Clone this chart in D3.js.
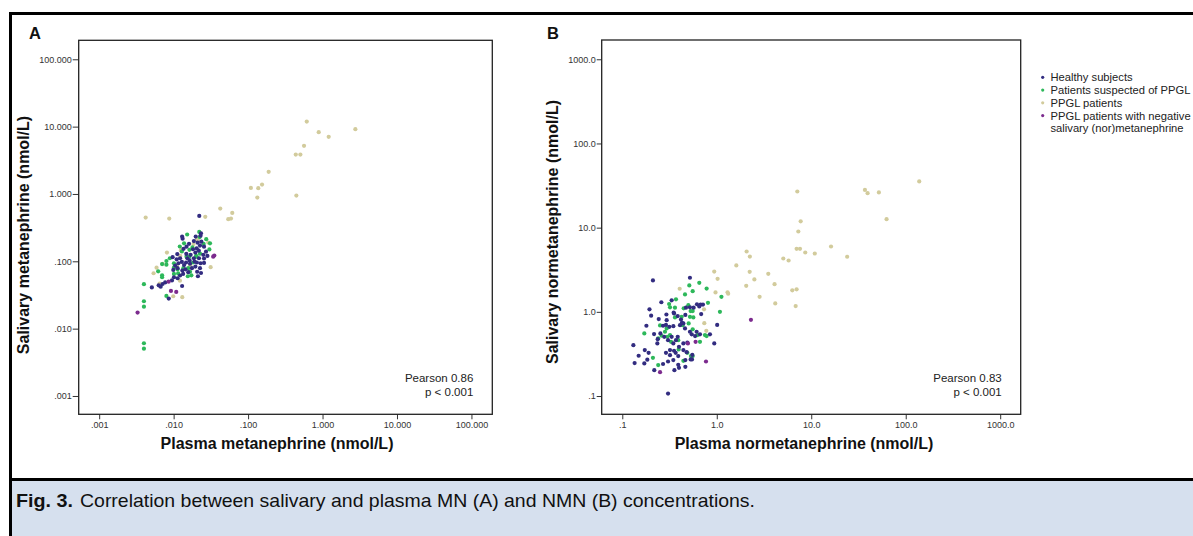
<!DOCTYPE html>
<html><head><meta charset="utf-8">
<script src="https://cdn.jsdelivr.net/npm/d3@7/dist/d3.min.js"></script>
<style>
body{margin:0;background:#fff;}
svg{display:block;}
text{font-family:"Liberation Sans",Arial,Helvetica,sans-serif;}
</style>
</head><body>
<svg id="chart" width="1193" height="536"></svg>
<script>
// ---------------- DATA ----------------
const groupNames = ["Healthy subjects","Patients suspected of PPGL","PPGL patients","PPGL patients with negative salivary (nor)metanephrine"];
const legendLines = [["Healthy subjects"],["Patients suspected of PPGL"],["PPGL patients"],["PPGL patients with negative","salivary (nor)metanephrine"]];

// Panel A: [plasma metanephrine, salivary metanephrine] (nmol/L)
const mnHealthy = [[0.0221,0.472],[0.0130,0.233],[0.0132,0.217],[0.0233,0.261],[0.0230,0.240],[0.0187,0.200],[0.0210,0.189],[0.0226,0.171],[0.0256,0.165],[0.0161,0.182],[0.0149,0.165],[0.0136,0.153],[0.0148,0.129],[0.0169,0.125],[0.0196,0.135],[0.0218,0.144],[0.0272,0.139],[0.0284,0.120],[0.0256,0.110],[0.0219,0.111],[0.0205,0.096],[0.0230,0.0935],[0.0256,0.0946],[0.0191,0.099],[0.0166,0.092],[0.0147,0.096],[0.0129,0.098],[0.0116,0.0935],[0.0105,0.0865],[0.0097,0.115],[0.0112,0.128],[0.0099,0.0745],[0.0113,0.079],[0.0131,0.073],[0.0144,0.076],[0.0157,0.069],[0.0207,0.070],[0.0233,0.067],[0.0212,0.060],[0.0134,0.065],[0.0122,0.0615],[0.0113,0.056],[0.0101,0.058],[0.0095,0.052],[0.0130,0.043],[0.0077,0.0485],[0.0071,0.046],[0.0067,0.042],[0.0063,0.044],[0.0051,0.041],[0.0086,0.028],[0.0196,0.0835],[0.0176,0.079],[0.0187,0.111],[0.0250,0.125],[0.0153,0.111],[0.0122,0.111],[0.0110,0.107],[0.0204,0.156],[0.0236,0.196],[0.0198,0.233],[0.0182,0.151],[0.0226,0.079],[0.0138,0.088],[0.0164,0.103]];
const mnSuspected = [[0.00399,0.0457],[0.00399,0.0255],[0.00399,0.0212],[0.00399,0.00607],[0.00399,0.00505],[0.0152,0.250],[0.0221,0.273],[0.0224,0.229],[0.0274,0.213],[0.0308,0.185],[0.0302,0.150],[0.0138,0.185],[0.0121,0.166],[0.0163,0.148],[0.0179,0.161],[0.0226,0.130],[0.0200,0.120],[0.0163,0.117],[0.0182,0.096],[0.0089,0.111],[0.0080,0.101],[0.0070,0.091],[0.0080,0.089],[0.0101,0.081],[0.0113,0.076],[0.0062,0.071],[0.0070,0.062],[0.0070,0.058],[0.0101,0.065],[0.0157,0.079],[0.0166,0.070],[0.0173,0.062],[0.0155,0.060],[0.0080,0.0306],[0.0129,0.140],[0.0253,0.181],[0.0101,0.0935],[0.0135,0.079],[0.0204,0.117],[0.0115,0.066],[0.0149,0.117]];
const mnPPGL = [[0.614,11.9],[0.889,8.28],[1.21,7.05],[2.76,9.18],[0.564,5.19],[0.437,3.85],[0.504,3.85],[0.189,2.13],[0.109,1.23],[0.137,1.22],[0.154,1.38],[0.133,0.883],[0.445,0.946],[0.0423,0.607],[0.0613,0.523],[0.0542,0.422],[0.0589,0.431],[0.00421,0.446],[0.00873,0.431],[0.0266,0.457],[0.00813,0.135],[0.0059,0.0805],[0.00538,0.0665],[0.01227,0.120],[0.0314,0.0817],[0.01306,0.0293],[0.00988,0.0303],[0.00648,0.0467],[0.01216,0.0516],[0.0128,0.151],[0.0206,0.213],[0.0292,0.190],[0.0167,0.0875],[0.01107,0.0865],[0.00711,0.0914],[0.0215,0.200],[0.0185,0.180],[0.0125,0.145]];
const mnNegative = [[0.00328,0.0173],[0.0352,0.1216],[0.0340,0.117],[0.0092,0.0363],[0.01084,0.0351],[0.00857,0.0499]];

// Panel B: [plasma normetanephrine, salivary normetanephrine] (nmol/L)
const nmnHealthy = [[0.211,2.36],[0.52,2.54],[0.259,1.30],[0.333,1.37],[0.194,1.07],[0.202,0.90],[0.353,0.956],[0.293,0.93],[0.243,0.82],[0.180,0.684],[0.131,0.402],[0.135,0.246],[0.149,0.301],[0.173,0.351],[0.184,0.270],[0.171,0.244],[0.218,0.203],[0.270,0.240],[0.305,0.257],[0.305,0.107],[0.356,0.203],[0.398,0.216],[0.391,0.235],[0.465,0.267],[0.547,0.272],[0.551,0.308],[0.480,0.332],[0.443,0.351],[0.398,0.384],[0.370,0.461],[0.333,0.505],[0.305,0.461],[0.278,0.505],[0.253,0.554],[0.237,0.474],[0.217,0.544],[0.235,0.421],[0.270,0.684],[0.290,0.70],[0.315,0.664],[0.347,0.676],[0.408,0.695],[0.443,0.728],[0.418,0.81],[0.386,0.89],[0.350,0.98],[0.465,0.92],[0.520,1.13],[0.569,1.12],[0.617,1.23],[0.674,1.22],[0.714,1.22],[0.653,1.16],[0.684,0.94],[0.847,0.54],[0.941,0.421],[1.01,0.70],[0.543,0.54],[0.590,0.515],[0.664,0.54],[0.612,0.58],[0.520,0.58],[0.461,0.635],[0.428,0.741],[0.488,0.43],[0.443,0.421],[0.386,0.505],[0.347,0.421],[0.320,0.351],[0.290,0.326],[0.320,0.306],[0.353,0.345],[0.391,0.298],[0.347,0.267],[0.465,0.222],[0.529,0.272],[0.295,0.797],[0.472,1.12],[0.367,0.326],[0.190,0.326]];
const nmnSuspected = [[0.653,2.21],[0.512,2.06],[0.556,1.76],[0.461,1.61],[0.370,1.41],[0.781,1.89],[0.807,1.28],[1.12,1.51],[1.08,1.00],[0.320,1.13],[0.361,1.12],[0.313,1.24],[0.447,1.10],[0.500,1.20],[0.529,1.02],[0.520,0.873],[0.556,1.02],[0.565,0.858],[0.425,0.873],[0.435,0.695],[0.361,0.858],[0.251,0.69],[0.295,0.635],[0.283,0.58],[0.320,0.53],[0.300,0.505],[0.261,0.52],[0.240,0.483],[0.171,0.554],[0.211,0.284],[0.240,0.233],[0.443,0.262],[0.488,0.326],[0.533,0.298],[0.556,0.298],[0.395,0.358],[0.626,0.53],[0.750,0.53],[0.781,0.515],[0.664,0.44],[0.556,0.62],[0.504,0.728],[0.328,0.44],[0.391,0.461]];
const nmnPPGL = [[7.12,26.9],[37.0,28.1],[39.5,25.7],[52.0,26.2],[62.7,12.6],[139,35.4],[7.73,11.9],[7.30,9.0],[7.0,5.61],[7.6,5.61],[8.64,5.07],[10.9,4.93],[16.2,5.97],[24.0,4.51],[2.07,5.21],[2.24,4.54],[5.06,4.30],[5.76,4.07],[1.61,3.56],[0.94,3.01],[2.23,2.99],[3.51,2.83],[1.02,2.47],[2.50,2.43],[2.05,2.04],[4.09,2.13],[6.30,1.80],[7.0,1.85],[0.405,1.88],[0.97,1.70],[1.30,1.71],[1.32,1.64],[2.84,1.51],[4.16,1.26],[6.84,1.17],[0.733,1.07],[0.738,0.734],[0.775,0.595]];
const nmnNegative = [[2.30,0.804],[0.495,0.421],[0.597,0.441],[0.769,0.257],[0.251,0.192]];

// tick values and labels
const mnTicks = [0.001,0.01,0.1,1,10,100];
const mnTickLabels = [".001",".010",".100","1.000","10.000","100.000"];
const nmnTicks = [0.1,1,10,100,1000];
const nmnTickLabels = [".1","1.0","10.0","100.0","1000.0"];

const pearsonA = ["Pearson 0.86","p < 0.001"];
const pearsonB = ["Pearson 0.83","p < 0.001"];
const caption = ["Fig. 3.","Correlation between salivary and plasma MN (A) and NMN (B) concentrations."];

// ---------------- STYLE ----------------
const colors = ["#322c80","#2db85a","#d2cb9c","#7c2b8e"];
const drawOrder = [2,1,0,3];

const svg = d3.select("#chart");

// frame
svg.append("rect").attr("x",12).attr("y",481).attr("width",1181).attr("height",55).attr("fill","#d6e0ee");
svg.append("line").attr("x1",10).attr("x2",1193).attr("y1",13.5).attr("y2",13.5).attr("stroke","#000").attr("stroke-width",3);
svg.append("line").attr("x1",10).attr("x2",1193).attr("y1",479.5).attr("y2",479.5).attr("stroke","#000").attr("stroke-width",3);
svg.append("line").attr("x1",10.5).attr("x2",10.5).attr("y1",12).attr("y2",536).attr("stroke","#000").attr("stroke-width",3);

// caption
svg.append("text").attr("x",16).attr("y",507).attr("font-size",18.5).attr("font-weight","bold")
  .style("font-family",'"Liberation Sans Narrow","Liberation Sans",Arial,sans-serif')
  .attr("textLength",57).attr("lengthAdjust","spacingAndGlyphs").attr("fill","#111").text(caption[0]);
svg.append("text").attr("x",80).attr("y",507).attr("font-size",18.5)
  .style("font-family",'"Liberation Sans Narrow","Liberation Sans",Arial,sans-serif')
  .attr("textLength",675).attr("lengthAdjust","spacingAndGlyphs").attr("fill","#111").text(caption[1]);

function panel(cfg){
  const g = svg.append("g");
  const x = d3.scaleLog().domain(cfg.xDomain).range([cfg.left,cfg.right]);
  const y = d3.scaleLog().domain(cfg.yDomain).range([cfg.bottom,cfg.top]);

  const xa = g.append("g").attr("transform",`translate(0,${cfg.bottom})`)
    .call(d3.axisBottom(x).tickValues(cfg.ticks).tickFormat((d,i)=>cfg.labels[i]).tickSize(5).tickPadding(2));
  const ya = g.append("g").attr("transform",`translate(${cfg.left},0)`)
    .call(d3.axisLeft(y).tickValues(cfg.ticks).tickFormat((d,i)=>cfg.labels[i]).tickSize(cfg.ytick).tickPadding(1));
  [xa,ya].forEach(a=>{
    a.select(".domain").remove();
    a.selectAll("line").attr("stroke","#333").attr("stroke-width",1);
    a.selectAll("text").attr("font-size",9).attr("fill","#333").style("font-family",'"Liberation Sans",Arial,sans-serif');
  });

  g.append("rect").attr("x",cfg.left).attr("y",cfg.top).attr("width",cfg.right-cfg.left).attr("height",cfg.bottom-cfg.top)
    .attr("fill","none").attr("stroke","#222").attr("stroke-width",1.3);

  drawOrder.forEach(k=>{
    g.append("g").selectAll("circle").data(cfg.series[k]).join("circle")
      .attr("cx",d=>x(d[0])).attr("cy",d=>y(d[1])).attr("r",2.1).attr("fill",colors[k]);
  });

  g.append("text").attr("x",cfg.xTitleX).attr("y",448.5).attr("text-anchor","middle")
    .attr("font-size",16).attr("font-weight","bold").attr("fill","#111").text(cfg.xTitle);
  g.append("text").attr("transform",`translate(${cfg.yTitleX},${cfg.yTitleY}) rotate(-90)`).attr("text-anchor","middle")
    .attr("font-size",16).attr("font-weight","bold").attr("fill","#111").text(cfg.yTitle);
  g.append("text").attr("x",cfg.letterX).attr("y",39).attr("font-size",16.5).attr("font-weight","bold").attr("fill","#111").text(cfg.letter);

  cfg.pearson.forEach((t,i)=>{
    g.append("text").attr("x",cfg.right-19).attr("y",381.5+i*14.3).attr("text-anchor","end")
      .attr("font-size",11.5).attr("fill","#222").text(t);
  });
}

panel({
  letter:"A", letterX:29,
  left:78.7,right:492.3,top:40.3,bottom:414.3,ytick:6,
  xDomain:[Math.pow(10,-3.275),Math.pow(10,2.28)], yDomain:[Math.pow(10,-3.272),Math.pow(10,2.282)],
  ticks:mnTicks, labels:mnTickLabels,
  series:[mnHealthy,mnSuspected,mnPPGL,mnNegative],
  xTitle:"Plasma metanephrine (nmol/L)", xTitleX:277,
  yTitle:"Salivary metanephrine (nmol/L)", yTitleX:29, yTitleY:235,
  pearson:pearsonA
});
panel({
  letter:"B", letterX:547,
  left:601.7,right:1020.7,top:40,bottom:414.3,ytick:5,
  xDomain:[Math.pow(10,-1.218),Math.pow(10,3.217)], yDomain:[Math.pow(10,-1.217),Math.pow(10,3.229)],
  ticks:nmnTicks, labels:nmnTickLabels,
  series:[nmnHealthy,nmnSuspected,nmnPPGL,nmnNegative],
  xTitle:"Plasma normetanephrine (nmol/L)", xTitleX:804,
  yTitle:"Salivary normetanephrine (nmol/L)", yTitleX:557.5, yTitleY:232,
  pearson:pearsonB
});

// legend
const lg = svg.append("g");
let row = 0;
legendLines.forEach((lines,k)=>{
  const cy = 77.3 + row*12.75;
  lg.append("circle").attr("cx",1042.7).attr("cy",cy).attr("r",1.6).attr("fill",colors[k]);
  lines.forEach((t,j)=>{
    lg.append("text").attr("x",1050.5).attr("y",cy+4+j*12.75).attr("font-size",11.2).attr("fill","#222").text(t);
  });
  row += lines.length;
});
</script>
</body></html>
